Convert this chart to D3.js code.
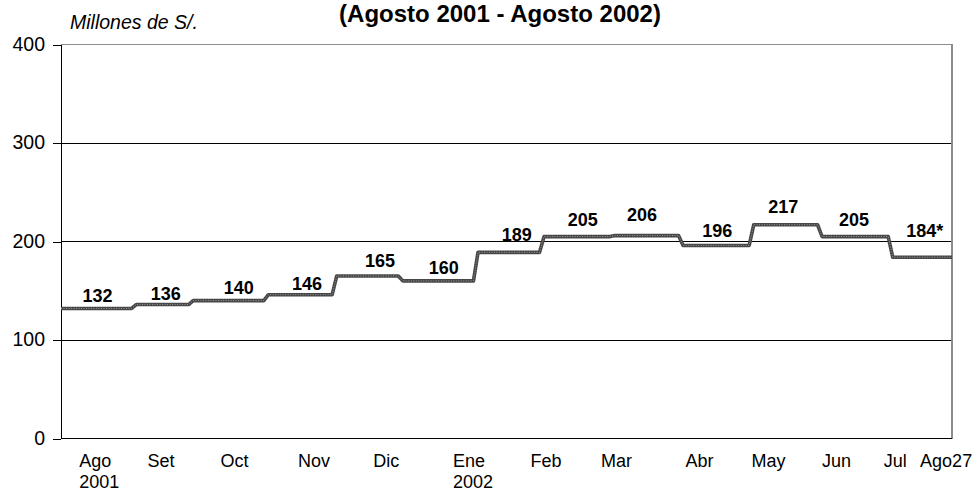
<!DOCTYPE html>
<html>
<head>
<meta charset="utf-8">
<script src="https://cdn.jsdelivr.net/npm/d3@7"></script>
<style>
  body { margin: 0; background: #fff; }
  svg text { font-family: "Liberation Sans", Arial, sans-serif; fill: #000; }
</style>
</head>
<body>
<script>
// chart data
var segStart = ["2001-08-01", "2001-09-03", "2001-09-28", "2001-10-31", "2001-11-30", "2001-12-29",
  "2002-01-31", "2002-03-01", "2002-04-01", "2002-05-01", "2002-06-01", "2002-07-01", "2002-08-01"];
var segValue = [132, 136, 140, 146, 165, 160, 189, 205, 206, 196, 217, 205, 184];
var seriesEnd = "2002-08-27";

var labelText = ["132", "136", "140", "146", "165", "160", "189", "205", "206", "196", "217", "205", "184*"];
var labelDate = ["2001-08-17", "2001-09-16", "2001-10-18", "2001-11-17", "2001-12-19", "2002-01-16",
  "2002-02-17", "2002-03-18", "2002-04-13", "2002-05-16", "2002-06-14", "2002-07-15", "2002-08-15"];

var tickLabel = ["Ago", "Set", "Oct", "Nov", "Dic", "Ene", "Feb", "Mar", "Abr", "May", "Jun", "Jul", "Ago27"];
var tickYear = ["2001", "", "", "", "", "2002", "", "", "", "", "", "", ""];
var tickDate = ["2001-08-09", "2001-09-08", "2001-10-10", "2001-11-13", "2001-12-16", "2002-01-20",
  "2002-02-23", "2002-03-26", "2002-05-02", "2002-05-31", "2002-07-01", "2002-07-28", "2002-08-13"];

var yTicks = [0, 100, 200, 300, 400];

// layout only: how far each data label sits above its step
var labelLift = [6.5, 4.6, 6.6, 4.7, 9, 7, 11.4, 10.6, 14.6, 8.5, 11.8, 10.6, 20.3];

var svgWidth = 972;
var svgHeight = 492;
var margin = { top: 44.5, right: 20, bottom: 53.5, left: 61 };
var width = svgWidth - margin.left - margin.right;
var height = svgHeight - margin.top - margin.bottom;

var parse = d3.timeParse("%Y-%m-%d");

var svg = d3.select("body")
  .append("svg")
  .attr("width", svgWidth)
  .attr("height", svgHeight);

var chartGroup = svg.append("g")
  .attr("transform", `translate(${margin.left}, ${margin.top})`);

var xScale = d3.scaleTime()
  .domain([parse(segStart[0]), parse(seriesEnd)])
  .range([0, width]);

var yScale = d3.scaleLinear()
  .domain([0, 400])
  .range([height, 0]);

// gridlines + frame
chartGroup.selectAll(".grid")
  .data(yTicks.filter(d => d > 0 && d < 400))
  .enter()
  .append("line")
  .attr("x1", 0)
  .attr("x2", width)
  .attr("y1", d => yScale(d))
  .attr("y2", d => yScale(d))
  .attr("stroke", "#000")
  .attr("stroke-width", 1)
  .attr("shape-rendering", "crispEdges");

chartGroup.append("path")
  .attr("d", `M0,${yScale(400)}H${width}V${yScale(0)}`)
  .attr("fill", "none")
  .attr("stroke", "#8c8c8c")
  .attr("stroke-width", 1.5)
  .attr("shape-rendering", "crispEdges");

// y axis
var leftAxis = d3.axisLeft(yScale)
  .tickValues(yTicks)
  .tickSize(8)
  .tickPadding(8);

var yAxisG = chartGroup.append("g").call(leftAxis);
yAxisG.select(".domain")
  .attr("stroke", "#000")
  .attr("shape-rendering", "crispEdges")
  .attr("d", `M0,${yScale(400)}V${yScale(0)}`);
yAxisG.selectAll(".tick line")
  .attr("stroke", "#000")
  .attr("shape-rendering", "crispEdges");
yAxisG.selectAll("text")
  .style("font-size", "19.5px")
  .attr("dy", "0.3em");

// bottom axis line
chartGroup.append("line")
  .attr("x1", 0)
  .attr("x2", width)
  .attr("y1", yScale(0))
  .attr("y2", yScale(0))
  .attr("stroke", "#000")
  .attr("stroke-width", 1.5)
  .attr("shape-rendering", "crispEdges");

// x tick labels
var xLab = chartGroup.append("g").selectAll("g")
  .data(tickLabel)
  .enter()
  .append("g")
  .attr("transform", (d, i) => `translate(${xScale(parse(tickDate[i]))}, ${height})`);

xLab.append("text")
  .attr("y", 28)
  .style("font-size", "18px")
  .text(d => d);

xLab.append("text")
  .attr("y", 49)
  .style("font-size", "18px")
  .text((d, i) => tickYear[i]);

// step line points built from segments
var points = [];
segStart.forEach(function (s, i) {
  var start = parse(s);
  var end = i < segStart.length - 1 ? d3.timeDay.offset(parse(segStart[i + 1]), -2) : parse(seriesEnd);
  points.push({ date: start, value: segValue[i] });
  points.push({ date: end, value: segValue[i] });
});

var line = d3.line()
  .x(d => xScale(d.date))
  .y(d => yScale(d.value));

chartGroup.append("path")
  .datum(points)
  .attr("d", line)
  .attr("fill", "none")
  .attr("stroke", "#474747")
  .attr("stroke-width", 3.6)
  .attr("stroke-linejoin", "round");

chartGroup.append("path")
  .datum(points)
  .attr("d", line)
  .attr("fill", "none")
  .attr("stroke", "#9a9a9a")
  .attr("stroke-width", 1)
  .attr("stroke-dasharray", "1,1.5");

// data labels
chartGroup.append("g").selectAll("text")
  .data(labelText)
  .enter()
  .append("text")
  .attr("x", (d, i) => xScale(parse(labelDate[i])))
  .attr("y", (d, i) => yScale(segValue[i]) - labelLift[i])
  .attr("text-anchor", "middle")
  .style("font-size", "18px")
  .style("font-weight", "bold")
  .text(d => d);

// unit label and title
svg.append("text")
  .attr("x", 70)
  .attr("y", 29)
  .style("font-size", "19.5px")
  .style("font-style", "italic")
  .text("Millones de S/.");

svg.append("text")
  .attr("x", 500)
  .attr("y", 22)
  .attr("text-anchor", "middle")
  .style("font-size", "24px")
  .style("font-weight", "bold")
  .text("(Agosto 2001 - Agosto 2002)");
</script>
</body>
</html>
